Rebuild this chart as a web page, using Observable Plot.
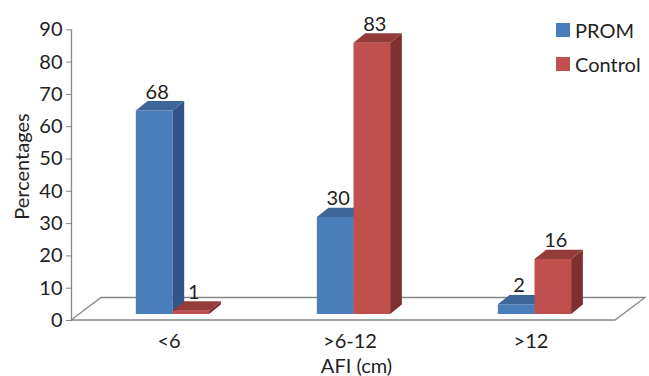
<!DOCTYPE html>
<html><head><meta charset="utf-8">
<script src="https://cdn.jsdelivr.net/npm/d3@7"></script>
<script src="https://cdn.jsdelivr.net/npm/@observablehq/plot@0.6"></script>
<style>
body{margin:0;background:#fff;}
#wrap{position:relative;width:649px;height:376px;font-family:Lato,sans-serif;}
.legend{position:absolute;left:556px;top:12.7px;font-size:20px;color:#222;line-height:24px;}
.row{display:flex;align-items:center;height:34px;}
.sw{width:14px;height:14px;margin-right:5px;}
</style></head><body><div id="wrap"></div>
<script>
// ---- data ----
const categories = ["<6", ">6-12", ">12"];
const seriesNames = ["PROM", "Control"];
const promValues = [63, 30, 3];      // bar heights as drawn
const controlValues = [1, 84, 17];
const promLabels = ["68", "30", "2"]; // data labels as printed
const controlLabels = ["1", "83", "16"];
const yTicks = [0, 10, 20, 30, 40, 50, 60, 70, 80, 90];
const xTitle = "AFI (cm)";
const yTitle = "Percentages";

// ---- style ----
const colors = {
  PROM: {front: "#4a7ebb", side: "#31548a", top: "#3d6699"},
  Control: {front: "#c0504d", side: "#7f2f2f", top: "#943c3a"}
};
const depthX = 11.7, depthY = 9.4;   // bar depth
const shiftX = 8, shiftY = 6;        // bar placement inside floor
const floorX = 30, floorY = 22.5;    // floor depth
const barFrac = 0.2025;
const axisGray = "#868686";

function poly(pts) { return "M" + pts.map(p => p.join(",")).join("L") + "Z"; }

function bars3d(index, scales) {
  const x = scales.x, y = scales.y;
  const band = x.bandwidth();
  const bw = band * barFrac;
  const y0 = y(0);
  const g = d3.create("svg:g");
  const [r0, r1] = x.range();
  // floor
  const fl = r0 - shiftX - 2, fr = r1 - shiftX - 2;
  g.append("path")
    .attr("d", poly([[fl, y0], [fr, y0], [fr + floorX, y0 - floorY], [fl + floorX, y0 - floorY]]))
    .attr("fill", "white").attr("stroke", axisGray).attr("stroke-width", 1.3);
  categories.forEach((c, i) => {
    const cx = x(c) + band / 2;
    [["PROM", promValues[i], cx - bw], ["Control", controlValues[i], cx]].forEach(([s, v, x0]) => {
      const col = colors[s];
      const yb = y0 - shiftY, yt = y(v) - shiftY;
      const x1 = x0 + bw;
      g.append("path").attr("d", poly([[x0, yb], [x1, yb], [x1, yt], [x0, yt]])).attr("fill", col.front);
      g.append("path").attr("d", poly([[x1, yb], [x1 + depthX, yb - depthY], [x1 + depthX, yt - depthY], [x1, yt]])).attr("fill", col.side);
      g.append("path").attr("d", poly([[x0, yt], [x0 + depthX, yt - depthY], [x1 + depthX, yt - depthY], [x1, yt]])).attr("fill", col.top);
    });
  });
  return g.node();
}

const halfBar = 181.3 * barFrac / 2;
const chart = Plot.plot({
  width: 649,
  height: 376,
  marginTop: 29.3,
  marginBottom: 56,
  marginLeft: 71,
  marginRight: 0,
  style: {fontFamily: "Lato, sans-serif", fontSize: "20px", color: "#222", background: "white", overflow: "visible"},
  x: {type: "band", domain: categories, range: [81, 625], padding: 0},
  y: {domain: [0, 90]},
  marks: [
    Plot.axisY({ticks: yTicks, tickSize: 5, tickPadding: 4, fontSize: 20, stroke: axisGray, fill: "#222", label: null, tickFormat: d => String(d)}),
    Plot.frame({anchor: "left", stroke: axisGray, strokeWidth: 1.3}),
    bars3d,
    Plot.axisX({tickSize: 0, tickPadding: 13, fontSize: 20, dx: -4, label: null, fill: "#222"}),
    Plot.text(categories, {x: d => d, y: (d, i) => promValues[i], text: (d, i) => promLabels[i], dx: -halfBar + 2.5, dy: -24.8, fontSize: 20, fill: "#222"}),
    Plot.text(categories, {x: d => d, y: (d, i) => controlValues[i], text: (d, i) => controlLabels[i], dx: halfBar + 2.5, dy: -24.8, fontSize: 20, fill: "#222"}),
    Plot.text([xTitle], {frameAnchor: "bottom", textAnchor: "middle", lineAnchor: "middle", dx: -4, dy: 45.6, fontSize: 20, fill: "#222"}),
    Plot.text([yTitle], {frameAnchor: "left", textAnchor: "middle", lineAnchor: "middle", rotate: -90, dx: -49.1, dy: -8.6, fontSize: 20, fill: "#222"})
  ]
});
const wrap = document.getElementById("wrap");
wrap.appendChild(chart);
const legend = document.createElement("div");
legend.className = "legend";
seriesNames.forEach(s => {
  const row = document.createElement("div");
  row.className = "row";
  const sw = document.createElement("div");
  sw.className = "sw";
  sw.style.background = colors[s].front;
  const t = document.createElement("span");
  t.textContent = s;
  row.appendChild(sw); row.appendChild(t);
  legend.appendChild(row);
});
wrap.appendChild(legend);
</script></body></html>
